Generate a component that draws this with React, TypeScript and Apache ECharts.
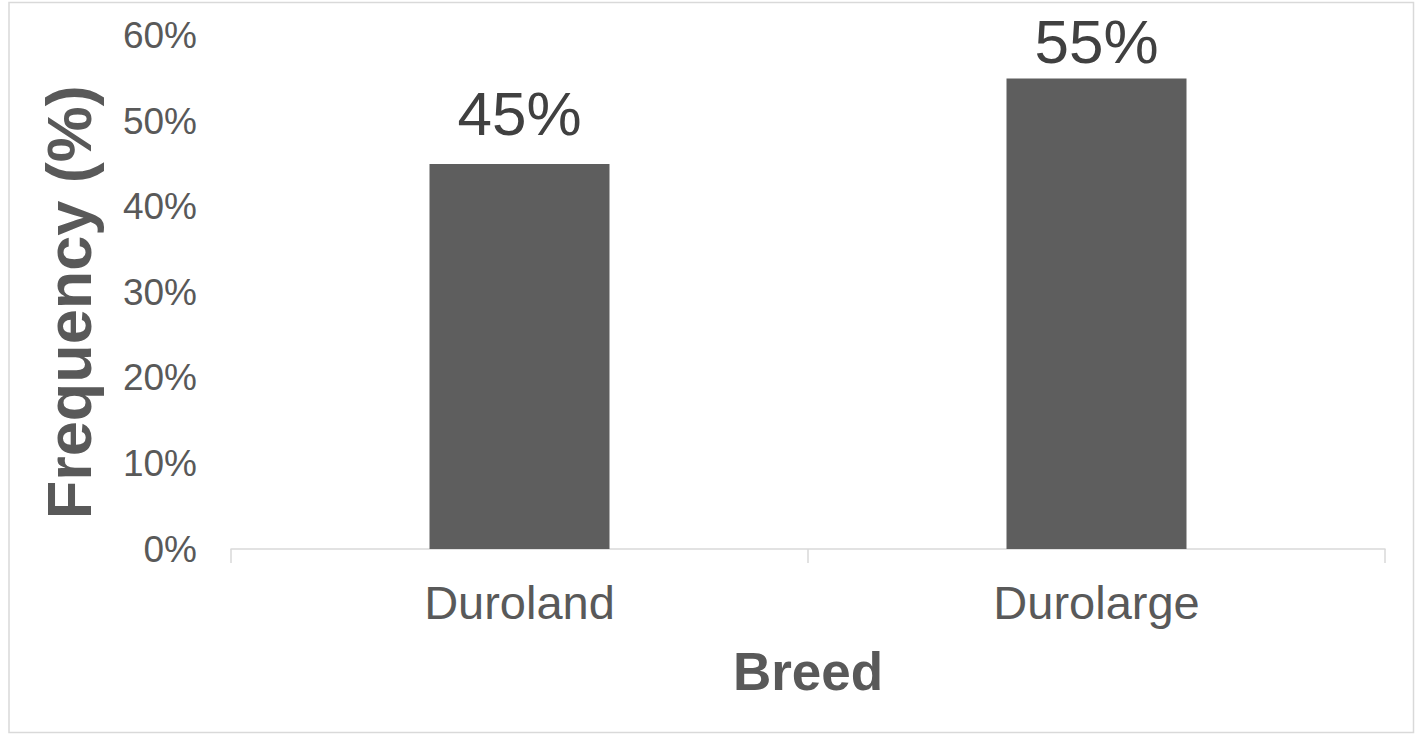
import React, { useEffect, useRef } from "react";
import * as echarts from "echarts";

// Breed categories and their frequency (%)
const breeds = ["Duroland", "Durolarge"];
const frequency = [45, 55];
const yTicks = [0, 10, 20, 30, 40, 50, 60];
// gap between each bar's top and its value label
const labelGaps = [19, 6];

const FONT = "'Liberation Sans', Arial, sans-serif";

export default function App() {
  const ref = useRef<HTMLDivElement>(null);

  useEffect(() => {
    if (!ref.current) return;
    const chart = echarts.init(ref.current, null, { renderer: "svg" });
    chart.setOption({
      animation: false,
      backgroundColor: "#ffffff",
      grid: { left: 231, right: 30, top: 35.6, bottom: 187, containLabel: false },
      graphic: [
        {
          type: "rect",
          shape: { x: 9, y: 2.5, width: 1404.5, height: 730 },
          style: { fill: "none", stroke: "#d9d9d9", lineWidth: 1.5 },
          silent: true,
        },
      ],
      xAxis: {
        type: "category",
        data: breeds,
        name: "Breed",
        nameLocation: "middle",
        nameGap: 96,
        nameTextStyle: { fontFamily: FONT, fontSize: 53, fontWeight: "bold", color: "#595959" },
        axisLine: { show: true, lineStyle: { color: "#d9d9d9", width: 1.5 } },
        axisTick: { show: true, length: 14, lineStyle: { color: "#d9d9d9", width: 1.5 } },
        axisLabel: { fontFamily: FONT, fontSize: 47, color: "#595959", margin: 30 },
        splitLine: { show: false },
      },
      yAxis: {
        type: "value",
        min: yTicks[0],
        max: yTicks[yTicks.length - 1],
        interval: 10,
        name: "Frequency (%)",
        nameLocation: "middle",
        nameGap: 131,
        nameTextStyle: {
          fontFamily: FONT,
          fontSize: 63,
          fontWeight: "bold",
          color: "#595959",
          padding: [0, 20, 0, 0],
        },
        axisLine: { show: false },
        axisTick: { show: false },
        splitLine: { show: false },
        axisLabel: {
          fontFamily: FONT,
          fontSize: 37,
          color: "#595959",
          margin: 34,
          formatter: (v: number) => `${v}%`,
        },
      },
      series: [
        {
          type: "bar",
          data: frequency.map((v, i) => ({ value: v, label: { distance: labelGaps[i] } })),
          barWidth: 180,
          itemStyle: { color: "#5e5e5e" },
          label: {
            show: true,
            position: "top",
            fontFamily: FONT,
            fontSize: 62,
            color: "#404040",
            formatter: (p: any) => `${p.value}%`,
          },
        },
      ],
    });
    return () => chart.dispose();
  }, []);

  return (
    <div
      ref={ref}
      style={{ position: "fixed", left: 0, top: 0, width: 1415, height: 736 }}
    />
  );
}
